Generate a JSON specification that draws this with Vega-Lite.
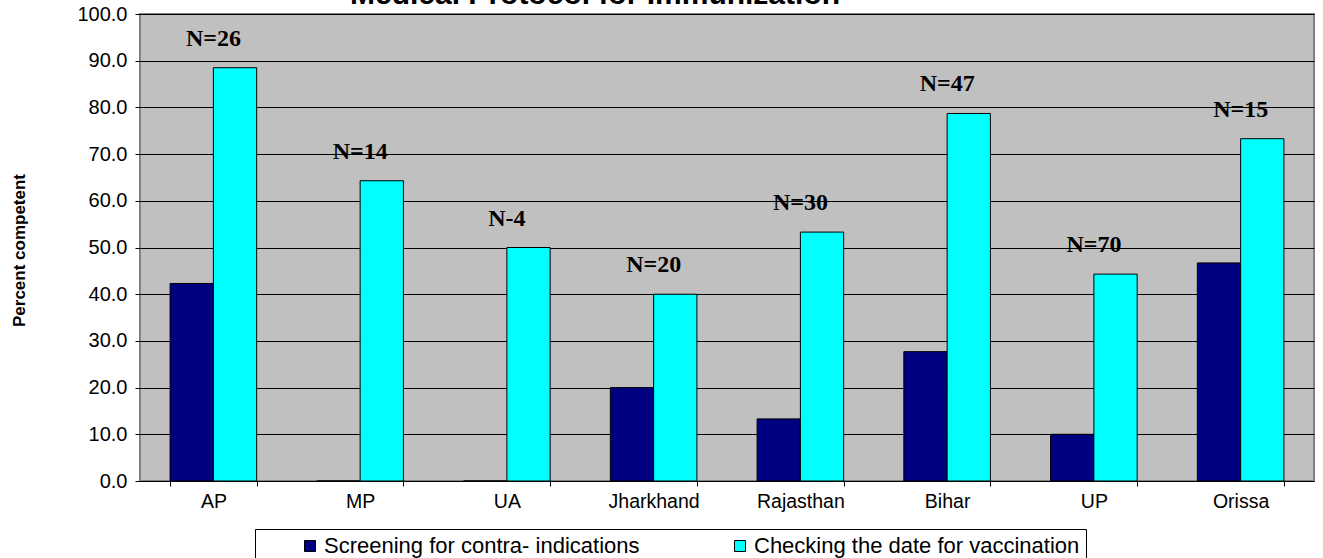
{
  "$schema": "https://vega.github.io/schema/vega-lite/v6.json",
  "width": 1174,
  "height": 467,
  "autosize": {"type": "none"},
  "padding": {"left": 140, "top": 14, "right": 9, "bottom": 77},
  "background": "white",
  "title": {
    "text": "Medical Protocol for Immunization",
    "anchor": "start",
    "frame": "group",
    "dx": 210,
    "dy": 31,
    "offset": 1,
    "baseline": "alphabetic",
    "font": "Liberation Sans",
    "fontSize": 30,
    "fontWeight": "bold",
    "color": "black"
  },
  "config": {
    "view": {"fill": "#C0C0C0", "stroke": "#808080", "strokeWidth": 2},
    "axis": {"labelFont": "Liberation Sans", "labelColor": "black", "tickColor": "black", "domainColor": "black"}
  },
  "datasets": {
    "scores": [
      {"state": "AP", "series": "Screening for contra- indications", "percent": 42.3},
      {"state": "AP", "series": "Checking the date for vaccination", "percent": 88.5},
      {"state": "MP", "series": "Screening for contra- indications", "percent": 0},
      {"state": "MP", "series": "Checking the date for vaccination", "percent": 64.3},
      {"state": "UA", "series": "Screening for contra- indications", "percent": 0},
      {"state": "UA", "series": "Checking the date for vaccination", "percent": 50.0},
      {"state": "Jharkhand", "series": "Screening for contra- indications", "percent": 20.0},
      {"state": "Jharkhand", "series": "Checking the date for vaccination", "percent": 40.0},
      {"state": "Rajasthan", "series": "Screening for contra- indications", "percent": 13.3},
      {"state": "Rajasthan", "series": "Checking the date for vaccination", "percent": 53.3},
      {"state": "Bihar", "series": "Screening for contra- indications", "percent": 27.7},
      {"state": "Bihar", "series": "Checking the date for vaccination", "percent": 78.7},
      {"state": "UP", "series": "Screening for contra- indications", "percent": 10.0},
      {"state": "UP", "series": "Checking the date for vaccination", "percent": 44.3},
      {"state": "Orissa", "series": "Screening for contra- indications", "percent": 46.7},
      {"state": "Orissa", "series": "Checking the date for vaccination", "percent": 73.3}
    ],
    "samples": [
      {"state": "AP", "label": "N=26", "percent": 88.5},
      {"state": "MP", "label": "N=14", "percent": 64.3},
      {"state": "UA", "label": "N-4", "percent": 50.0},
      {"state": "Jharkhand", "label": "N=20", "percent": 40.0},
      {"state": "Rajasthan", "label": "N=30", "percent": 53.3},
      {"state": "Bihar", "label": "N=47", "percent": 78.7},
      {"state": "UP", "label": "N=70", "percent": 44.3},
      {"state": "Orissa", "label": "N=15", "percent": 73.3}
    ]
  },
  "layer": [
    {
      "data": {"name": "scores"},
      "mark": {"type": "bar", "stroke": "black", "strokeWidth": 1},
      "encoding": {
        "x": {
          "field": "state",
          "type": "nominal",
          "sort": ["AP", "MP", "UA", "Jharkhand", "Rajasthan", "Bihar", "UP", "Orissa"],
          "scale": {"paddingInner": 0.41, "paddingOuter": 0.205},
          "axis": {
            "title": null,
            "labelAngle": 0,
            "labelFontSize": 19.5,
            "labelPadding": 6,
            "tickBand": "extent",
            "tickSize": 5,
            "grid": false
          }
        },
        "xOffset": {
          "field": "series",
          "type": "nominal",
          "sort": ["Screening for contra- indications", "Checking the date for vaccination"],
          "scale": {"paddingInner": 0, "paddingOuter": 0}
        },
        "y": {
          "field": "percent",
          "type": "quantitative",
          "scale": {"domain": [0, 100], "nice": false},
          "axis": {
            "values": [0, 10, 20, 30, 40, 50, 60, 70, 80, 90, 100],
            "format": ".1f",
            "labelFontSize": 20,
            "labelPadding": 8,
            "tickSize": 5,
            "grid": true,
            "gridColor": "black",
            "gridOpacity": 1,
            "gridWidth": 1,
            "domain": false,
            "title": "Percent competent",
            "titleFont": "Liberation Sans",
            "titleFontSize": 17,
            "titleFontWeight": "bold",
            "titleColor": "black",
            "titleAngle": -90,
            "titleAlign": "center",
            "titleBaseline": "middle",
            "titleX": -121,
            "titleY": 236
          }
        },
        "color": {
          "field": "series",
          "type": "nominal",
          "scale": {
            "domain": ["Screening for contra- indications", "Checking the date for vaccination"],
            "range": ["#000080", "#00FFFF"]
          },
          "legend": {
            "title": null,
            "orient": "none",
            "legendX": 115,
            "legendY": 515,
            "direction": "horizontal",
            "symbolType": "square",
            "symbolSize": 121,
            "symbolStrokeColor": "black",
            "symbolStrokeWidth": 1,
            "labelFont": "Liberation Sans",
            "labelFontSize": 22,
            "labelColor": "black",
            "labelLimit": 600,
            "labelOffset": 3,
            "symbolOffset": 38,
            "columnPadding": 51,
            "padding": 6,
            "strokeColor": "black",
            "fillColor": "white"
          }
        }
      }
    },
    {
      "data": {"name": "samples"},
      "mark": {
        "type": "text",
        "font": "Liberation Serif",
        "fontWeight": "bold",
        "fontSize": 24,
        "baseline": "alphabetic",
        "dy": -22,
        "color": "black"
      },
      "encoding": {
        "x": {
          "field": "state",
          "type": "nominal",
          "sort": ["AP", "MP", "UA", "Jharkhand", "Rajasthan", "Bihar", "UP", "Orissa"]
        },
        "y": {"field": "percent", "type": "quantitative"},
        "text": {"field": "label"}
      }
    }
  ]
}
